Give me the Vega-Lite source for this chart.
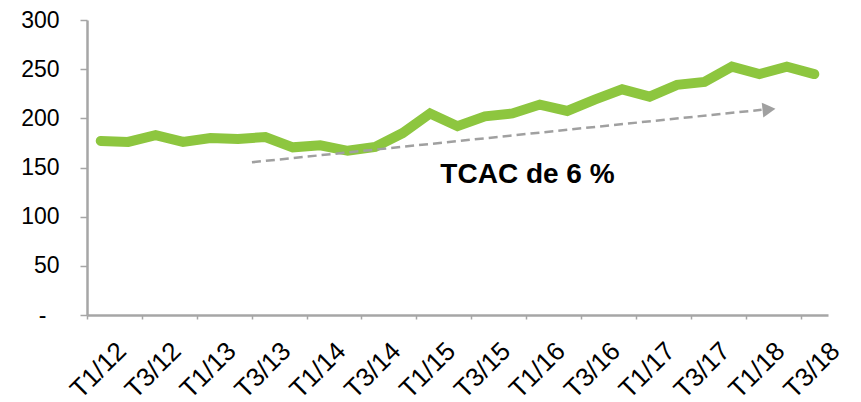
{
  "$schema": "https://vega.github.io/schema/vega-lite/v6.json",
  "width": 741,
  "height": 295,
  "autosize": {"type": "none"},
  "padding": {"left": 87, "top": 20, "right": 33, "bottom": 87},
  "background": "white",
  "config": {"view": {"stroke": null}, "font": "Liberation Sans"},
  "datasets": {
    "series": [
      {"x": 0, "q": "T1/12", "y": 177},
      {"x": 1, "q": "T2/12", "y": 176},
      {"x": 2, "q": "T3/12", "y": 183},
      {"x": 3, "q": "T4/12", "y": 176},
      {"x": 4, "q": "T1/13", "y": 180},
      {"x": 5, "q": "T2/13", "y": 179},
      {"x": 6, "q": "T3/13", "y": 181},
      {"x": 7, "q": "T4/13", "y": 170.5},
      {"x": 8, "q": "T1/14", "y": 172.5},
      {"x": 9, "q": "T2/14", "y": 167},
      {"x": 10, "q": "T3/14", "y": 171},
      {"x": 11, "q": "T4/14", "y": 185},
      {"x": 12, "q": "T1/15", "y": 205},
      {"x": 13, "q": "T2/15", "y": 192},
      {"x": 14, "q": "T3/15", "y": 202},
      {"x": 15, "q": "T4/15", "y": 205},
      {"x": 16, "q": "T1/16", "y": 214},
      {"x": 17, "q": "T2/16", "y": 207.5},
      {"x": 18, "q": "T3/16", "y": 219},
      {"x": 19, "q": "T4/16", "y": 229.5},
      {"x": 20, "q": "T1/17", "y": 222},
      {"x": 21, "q": "T2/17", "y": 234},
      {"x": 22, "q": "T3/17", "y": 237},
      {"x": 23, "q": "T4/17", "y": 252.5},
      {"x": 24, "q": "T1/18", "y": 245},
      {"x": 25, "q": "T2/18", "y": 252.5},
      {"x": 26, "q": "T3/18", "y": 245}
    ],
    "trend": [
      {"x": 5.51, "y": 155.3},
      {"x": 24.08, "y": 208.7}
    ],
    "arrow": [
      {"x": 24.35, "y": 209}
    ],
    "note": [
      {"x": 15.55, "y": 134.2, "t": "TCAC de 6 %"}
    ]
  },
  "layer": [
    {
      "data": {"name": "series"},
      "mark": {"type": "line", "color": "#8DC63F", "strokeWidth": 10, "strokeCap": "round", "strokeJoin": "miter"},
      "encoding": {
        "x": {
          "field": "x",
          "type": "quantitative",
          "scale": {"domain": [-0.5, 26.5], "nice": false, "zero": false},
          "axis": {
            "title": null,
            "grid": false,
            "values": [-0.5, 1.5, 3.5, 5.5, 7.5, 9.5, 11.5, 13.5, 15.5, 17.5, 19.5, 21.5, 23.5, 25.5],
            "labelExpr": "['T1/12','T3/12','T1/13','T3/13','T1/14','T3/14','T1/15','T3/15','T1/16','T3/16','T1/17','T3/17','T1/18','T3/18'][round((datum.value+0.5)/2)]",
            "domainColor": "#A6A6A6",
            "domainWidth": 2.5,
            "tickColor": "#A6A6A6",
            "tickWidth": 1.5,
            "tickSize": 4,
            "labelAngle": -45,
            "labelAlign": "center",
            "labelBaseline": "middle",
            "labelPadding": 51,
            "labelOffset": 11,
            "labelFontSize": 26,
            "labelColor": "#000000",
            "labelFont": "Liberation Sans",
            "labelOverlap": false,
            "labelFlush": false
          }
        },
        "y": {
          "field": "y",
          "type": "quantitative",
          "scale": {"domain": [0, 300], "nice": false},
          "axis": {
            "title": null,
            "grid": false,
            "values": [0, 50, 100, 150, 200, 250, 300],
            "labelExpr": "datum.value == 0 ? '-' : datum.label",
            "domainColor": "#A6A6A6",
            "domainWidth": 2.5,
            "tickColor": "#A6A6A6",
            "tickWidth": 1.5,
            "tickSize": 7,
            "labelPadding": {"condition": {"test": "datum.value == 0", "value": 34}, "value": 21},
            "labelFontSize": 23,
            "labelColor": "#000000",
            "labelFont": "Liberation Sans",
            "labelOverlap": false,
            "labelFlush": false
          }
        }
      }
    },
    {
      "data": {"name": "trend"},
      "mark": {"type": "line", "color": "#A0A0A0", "strokeWidth": 2.5, "strokeDash": [9, 5]},
      "encoding": {
        "x": {"field": "x", "type": "quantitative"},
        "y": {"field": "y", "type": "quantitative"}
      }
    },
    {
      "data": {"name": "arrow"},
      "mark": {"type": "point", "shape": "triangle-right", "filled": true, "color": "#A0A0A0", "size": 225, "angle": -6, "opacity": 1},
      "encoding": {
        "x": {"field": "x", "type": "quantitative"},
        "y": {"field": "y", "type": "quantitative"}
      }
    },
    {
      "data": {"name": "note"},
      "mark": {"type": "text", "font": "Liberation Sans", "fontSize": 28, "fontWeight": "bold", "color": "#000000", "align": "center", "baseline": "alphabetic"},
      "encoding": {
        "x": {"field": "x", "type": "quantitative"},
        "y": {"field": "y", "type": "quantitative"},
        "text": {"field": "t"}
      }
    }
  ]
}
